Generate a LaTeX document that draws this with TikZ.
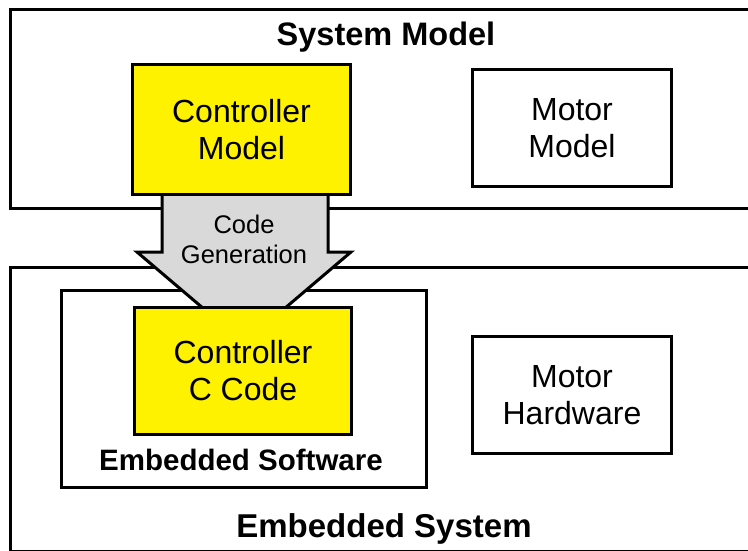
\documentclass[tikz,border=0pt]{standalone}
\usepackage{fontspec}
\setmainfont{Liberation Sans}
\usetikzlibrary{calc}
\definecolor{arrowgray}{RGB}{217,217,217}

\begin{document}
\begin{tikzpicture}[x=1pt, y=-1pt,
    box/.style={draw, line width=3pt, inner sep=0pt, align=center,
        anchor=north west, font=\fontsize{32}{37}\selectfont},
    ctrl/.style={box, fill=yellow},
    title/.style={anchor=base, font=\bfseries\fontsize{32.5}{37}\selectfont}]
    % 画布大小与裁剪
    \useasboundingbox (0,0) rectangle (748,550);
    \clip (0,0) rectangle (748,550);

    % 外框：系统模型与嵌入式系统（右侧超出画面）
    \node[box, minimum width=800, minimum height=199] (sysmodel) at (9,8) {};
    \node[box, minimum width=800, minimum height=284] (embsys) at (9,266) {};
    \node[box, minimum width=365, minimum height=197] (embsw) at (60,289) {};

    % 代码生成箭头：从控制器模型指向 C 代码
    \coordinate (gtop) at (244,193);
    \filldraw[fill=arrowgray, line width=3pt, line join=miter]
        (gtop) ++(-82,0) -- ++(0,59) -- ++(-25,0) -- ($(gtop)+(0,150)$)
        -- ($(gtop)+(107,59)$) -- ($(gtop)+(84,59)$) -- ($(gtop)+(84,0)$);
    \node[align=center, font=\fontsize{25.5}{30}\selectfont] (codegen) at ($(gtop)+(0,46)$) {Code\\Generation};

    % 内部方框
    \node[ctrl, minimum width=218, minimum height=130] (ctrlmodel) at (131,63) {Controller\\Model};
    \node[box, minimum width=199, minimum height=117] (motormodel) at (471,68) {Motor\\Model};
    \node[ctrl, minimum width=217, minimum height=127] (ctrlcode) at (133,306) {Controller\\C Code};
    \node[box, minimum width=199, minimum height=117] (motorhw) at (471,335) {Motor\\Hardware};

    % 标题
    \node[title] (sysname) at (386,45) {System Model};
    \node[title, font=\bfseries\fontsize{29.5}{33}\selectfont] (swname) at (241,470) {Embedded Software};
    \node[title, font=\bfseries\fontsize{33}{37}\selectfont] (embname) at (384,537) {Embedded System};
\end{tikzpicture}
\end{document}
